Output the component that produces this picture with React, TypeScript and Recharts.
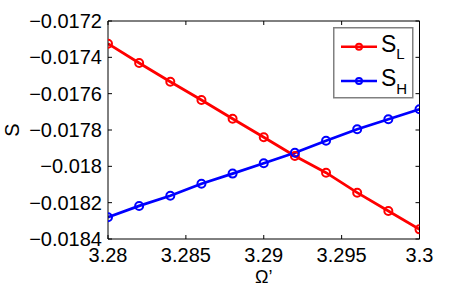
import React from "react";
import { Legend, Line, LineChart, XAxis, YAxis } from "recharts";

const omega = [3.28, 3.282, 3.284, 3.286, 3.288, 3.29, 3.292, 3.294, 3.296, 3.298, 3.3];
const sL = [
  -0.017325, -0.017431, -0.017534, -0.017635, -0.017738, -0.01784, -0.017943,
  -0.018035, -0.018145, -0.018246, -0.018347,
];
const sH = [
  -0.01828, -0.018218, -0.018162, -0.018096, -0.01804, -0.017983, -0.017925,
  -0.017859, -0.017796, -0.017741, -0.017686,
];
const xTicks = [3.28, 3.285, 3.29, 3.295, 3.3];
const yTicks = [-0.0184, -0.0182, -0.018, -0.0178, -0.0176, -0.0174, -0.0172];

const data = omega.map((x, i) => ({ x, sL: sL[i], sH: sH[i] }));

const FONT = "'Liberation Sans', Arial, Helvetica, sans-serif";
const RED = "#ff0000";
const BLUE = "#0000ff";

const fmtY = (v: number) => String(v).replace("-", "\u2212");

const YLabel = ({ viewBox }: any) => {
  const cx = viewBox.x + 12;
  const cy = viewBox.y + viewBox.height / 2;
  return (
    <text
      x={cx}
      y={cy}
      transform={`rotate(-90 ${cx} ${cy})`}
      textAnchor="middle"
      dominantBaseline="central"
      fontSize={20}
      fontFamily={FONT}
      fill="#000"
    >
      S
    </text>
  );
};

const entries = [
  { name: "S", sub: "L", color: RED },
  { name: "S", sub: "H", color: BLUE },
];

const LegendBox = () => (
  <svg width={81} height={72} style={{ display: "block" }}>
    <rect x={0.75} y={0.75} width={79} height={70} fill="#fff" stroke="#808080" strokeWidth={1.5} />
    {entries.map((e, i) => {
      const cy = 19.7 + i * 34.3;
      return (
        <g key={e.sub}>
          <line x1={8} x2={44} y1={cy} y2={cy} stroke={e.color} strokeWidth={2.5} />
          <circle cx={26} cy={cy} r={3} fill="none" stroke={e.color} strokeWidth={2} />
          <text x={48} y={cy + 5} fontSize={23} fontFamily={FONT} fill="#000">
            {e.name}
            <tspan fontSize={15} dy={7.5}>
              {e.sub}
            </tspan>
          </text>
        </g>
      );
    })}
  </svg>
);

export default function App() {
  return (
    <div style={{ position: "absolute", left: 0, top: 0, background: "#fff" }}>
      <LineChart
        width={463}
        height={291}
        data={data}
        margin={{ top: 20, right: 42.5, left: 0, bottom: 0 }}
        style={{ fontFamily: FONT }}
      >
        <XAxis
          dataKey="x"
          type="number"
          domain={[3.28, 3.3]}
          ticks={xTicks}
          interval={0}
          allowDataOverflow
          height={52}
          tickSize={-4}
          tickMargin={13}
          stroke="#000"
          tick={{ fill: "#000", fontSize: 20, fontFamily: FONT }}
          label={{
            value: "\u03A9\u2019",
            position: "insideBottom",
            offset: 8,
            fill: "#000",
            fontSize: 18,
            fontFamily: FONT,
          }}
        />
        <XAxis
          xAxisId="top"
          orientation="top"
          dataKey="x"
          type="number"
          domain={[3.28, 3.3]}
          ticks={xTicks}
          interval={0}
          allowDataOverflow
          height={1}
          tickSize={-4}
          stroke="#000"
          tick={() => <g />}
        />
        <YAxis
          type="number"
          domain={[-0.0184, -0.0172]}
          ticks={yTicks}
          interval={0}
          allowDataOverflow
          width={108}
          tickSize={-4}
          tickMargin={10}
          tickFormatter={fmtY}
          stroke="#000"
          tick={{ fill: "#000", fontSize: 20, fontFamily: FONT }}
          label={<YLabel />}
        />
        <YAxis
          yAxisId="right"
          orientation="right"
          type="number"
          domain={[-0.0184, -0.0172]}
          ticks={yTicks}
          interval={0}
          allowDataOverflow
          width={1}
          tickSize={-4}
          stroke="#000"
          tick={() => <g />}
        />
        <Legend
          layout="vertical"
          align="center"
          verticalAlign="middle"
          content={<LegendBox />}
          wrapperStyle={{ position: "absolute", left: 333, top: 27, width: 81, height: 72 }}
        />
        <Line
          dataKey="sL"
          name="S_L"
          stroke={RED}
          strokeWidth={2.8}
          dot={{ r: 4, fill: "none", stroke: RED, strokeWidth: 2 }}
          isAnimationActive={false}
        />
        <Line
          dataKey="sH"
          name="S_H"
          stroke={BLUE}
          strokeWidth={2.8}
          dot={{ r: 4, fill: "none", stroke: BLUE, strokeWidth: 2 }}
          isAnimationActive={false}
        />
      </LineChart>
    </div>
  );
}
